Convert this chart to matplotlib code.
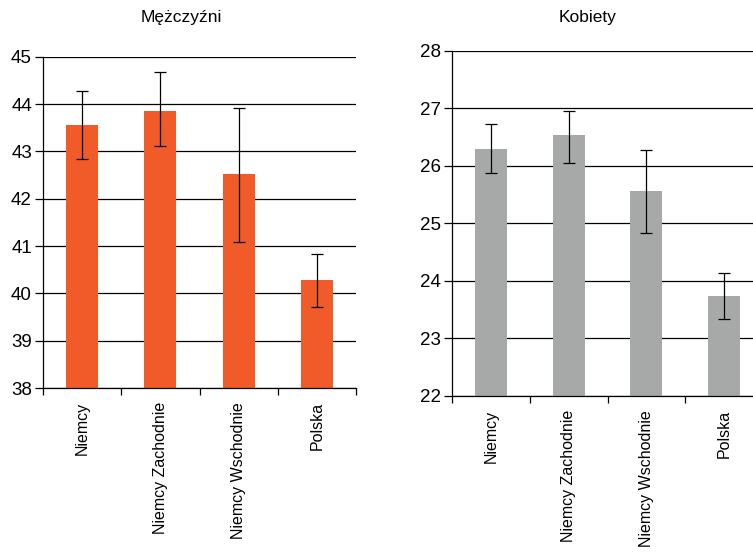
import matplotlib
matplotlib.use("Agg")
import matplotlib.pyplot as plt
import numpy as np

plt.rcParams['font.family'] = ['Liberation Sans', 'DejaVu Sans']

categories = ["Niemcy", "Niemcy Zachodnie", "Niemcy Wschodnie", "Polska"]

# men
men_mean = [43.56, 43.85, 42.53, 40.29]
men_low = [42.84, 43.12, 41.08, 39.72]
men_high = [44.28, 44.68, 43.92, 40.84]

# women
women_mean = [26.29, 26.54, 25.56, 23.74]
women_low = [25.88, 26.05, 24.84, 23.33]
women_high = [26.72, 26.96, 26.27, 24.13]

fig = plt.figure(figsize=(7.53, 5.55), dpi=100)


def panel(rect, mean, low, high, color, ymin, ymax, title, title_x):
    ax = fig.add_axes(rect)
    x = np.arange(len(categories))
    err = [np.array(mean) - np.array(low), np.array(high) - np.array(mean)]
    ax.bar(x, mean, width=0.41, color=color, zorder=2)
    ax.errorbar(x, mean, yerr=err, fmt='none', ecolor='black',
                elinewidth=0.9, capsize=4, capthick=0.9, zorder=3)
    ax.set_ylim(ymin, ymax)
    ax.set_xlim(-0.5, len(categories) - 0.5)
    ax.set_yticks(range(ymin, ymax + 1))
    ax.yaxis.grid(True, color='black', linewidth=0.9, zorder=1)
    ax.set_axisbelow(True)
    ax.set_xticks(np.arange(-0.5, len(categories)))
    ax.set_xticklabels([])
    ax.set_xticks(x, minor=True)
    ax.set_xticklabels(categories, minor=True, rotation=90, fontsize=11.5)
    ax.tick_params(axis='x', which='minor', length=0, pad=10)
    ax.tick_params(axis='x', which='major', length=5, width=0.9, direction='out')
    ax.tick_params(axis='y', length=6, width=0.9, labelsize=13.5, pad=2)
    for s in ['top', 'right']:
        ax.spines[s].set_visible(False)
    for s in ['left', 'bottom']:
        ax.spines[s].set_linewidth(0.9)
    fig.text(title_x, 0.968, title, ha='center', va='center', fontsize=12.5)
    return ax


panel([0.0571, 0.3009, 0.4157, 0.5969], men_mean, men_low, men_high,
      '#F15A29', 38, 45, "Mężczyźni", 181 / 753)
panel([0.6003, 0.2865, 0.4130, 0.6221], women_mean, women_low, women_high,
      '#A7A9A9', 22, 28, "Kobiety", 588 / 753)

fig.savefig("out.png", dpi=100)
